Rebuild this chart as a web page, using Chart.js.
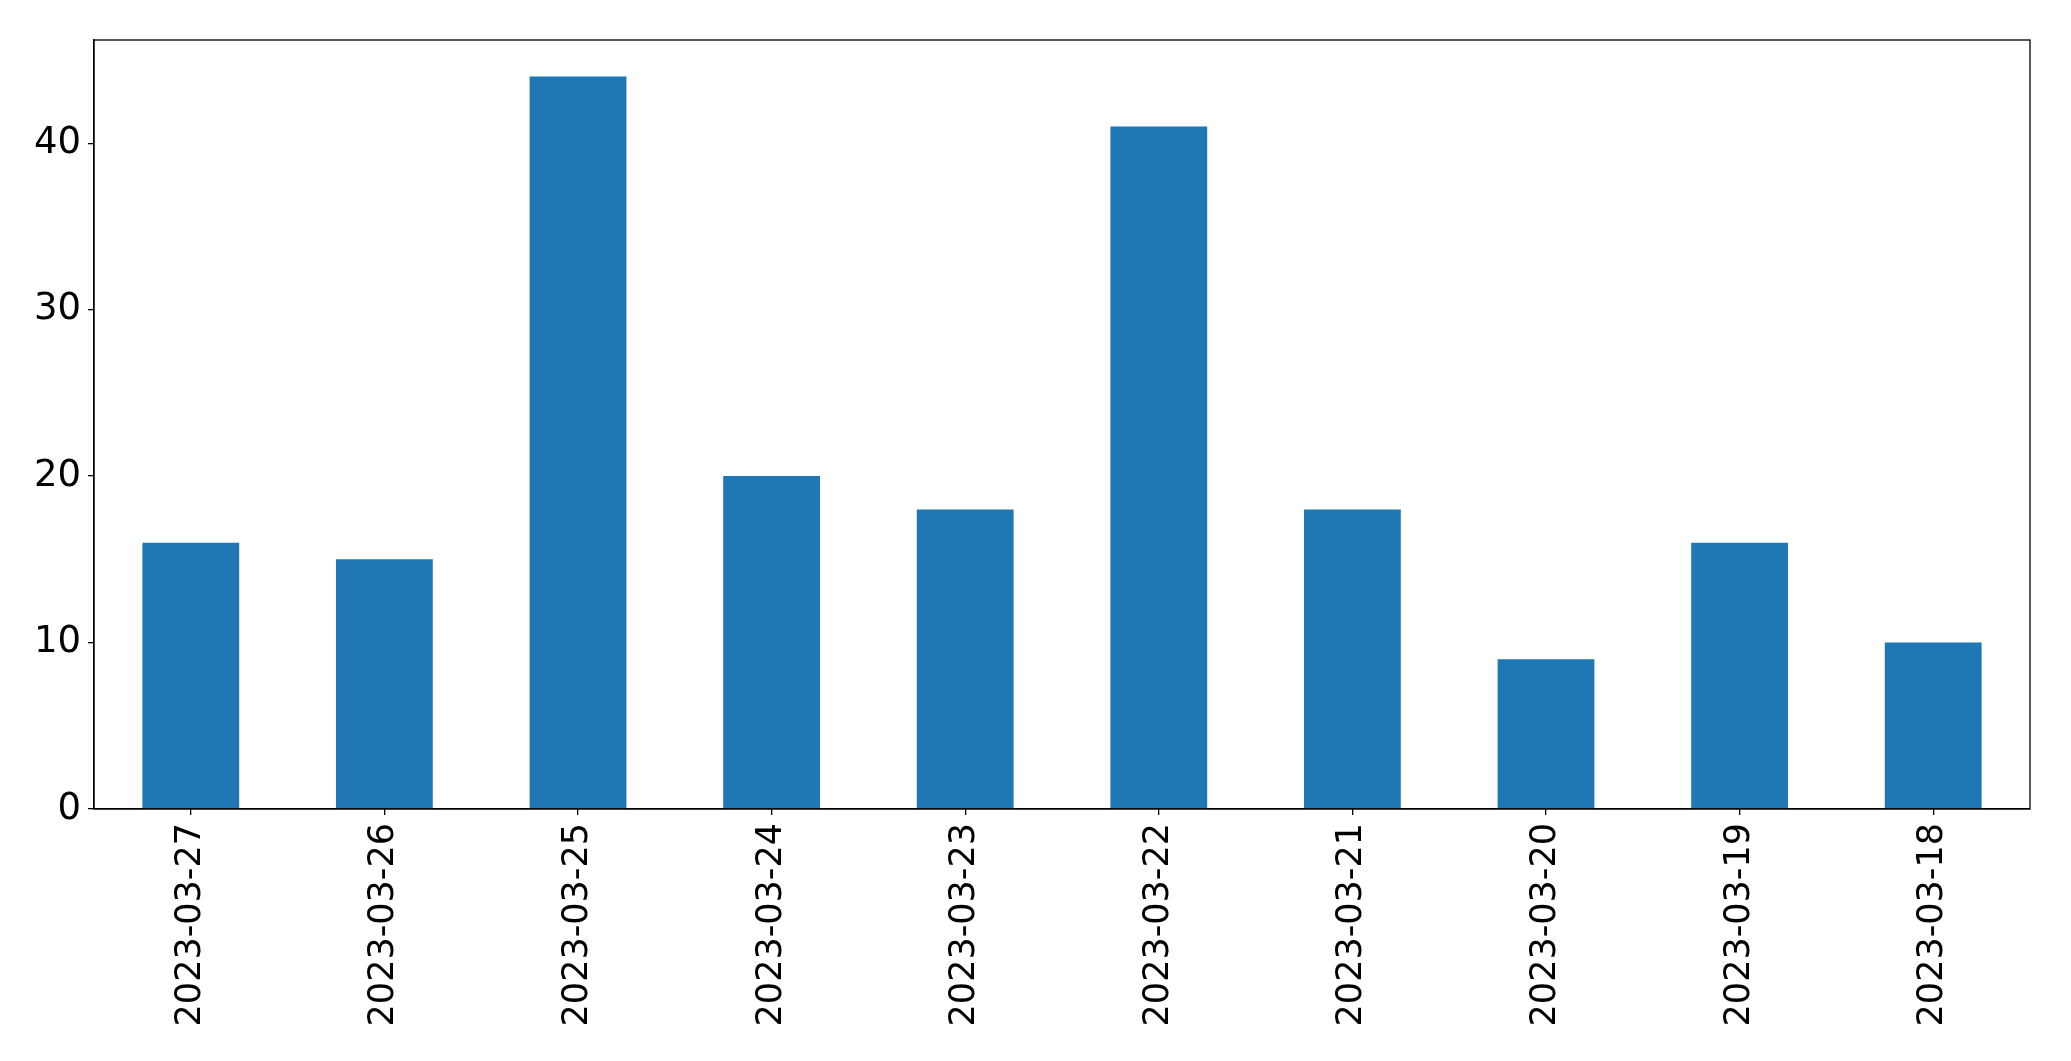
<!DOCTYPE html>
<html>
<head>
<meta charset="utf-8">
<script src="https://cdn.jsdelivr.net/npm/chart.js@4"></script>
<style>
  html, body { margin: 0; padding: 0; background: #fff; }
  #wrap { width: 2071px; height: 1061px; }
</style>
</head>
<body>
<div id="wrap"><canvas id="c" width="2071" height="1061"></canvas></div>
<script>
const categories = ["2023-03-27","2023-03-26","2023-03-25","2023-03-24","2023-03-23","2023-03-22","2023-03-21","2023-03-20","2023-03-19","2023-03-18"];
const values = [16, 15, 44, 20, 18, 41, 18, 9, 16, 10];
const yTicks = [0, 10, 20, 30, 40];

const framePlugin = {
  id: 'frame',
  afterDraw(chart) {
    const {ctx, chartArea: a} = chart;
    ctx.save();
    ctx.strokeStyle = '#000';
    ctx.lineWidth = 1.3;
    ctx.strokeRect(a.left, a.top, a.right - a.left, a.bottom - a.top);
    ctx.restore();
  }
};

const xFont = { family: 'DejaVu Sans', size: 35 };
const yFont = { family: 'DejaVu Sans', size: 37 };

new Chart(document.getElementById('c'), {
  type: 'bar',
  data: {
    labels: categories,
    datasets: [{
      data: values,
      backgroundColor: '#1f77b4',
      borderWidth: 0,
      barPercentage: 0.5,
      categoryPercentage: 1.0
    }]
  },
  options: {
    responsive: false,
    devicePixelRatio: 1,
    animation: false,
    layout: { padding: { top: 40, right: 41, left: 0, bottom: 0 } },
    plugins: { legend: { display: false }, tooltip: { enabled: false } },
    scales: {
      x: {
        offset: true,
        grid: { display: true, offset: false, drawOnChartArea: false, drawTicks: true, tickLength: 6, color: '#000', lineWidth: 1.3 },
        border: { display: true, color: '#000', width: 1.3 },
        ticks: { color: '#000', font: xFont, minRotation: 90, maxRotation: 90, padding: 8, autoSkip: false },
        afterFit(s) { s.height = 252; }
      },
      y: {
        min: 0,
        max: 46.2,
        grid: { display: true, drawOnChartArea: false, drawTicks: true, tickLength: 6, color: '#000', lineWidth: 1.3 },
        border: { display: true, color: '#000', width: 1.3 },
        ticks: { color: '#000', font: yFont, stepSize: 10, padding: 7 },
        afterBuildTicks(s) { s.ticks = yTicks.map(v => ({ value: v })); },
        afterFit(s) { s.width = 94; }
      }
    }
  },
  plugins: [framePlugin]
});
</script>
</body>
</html>
